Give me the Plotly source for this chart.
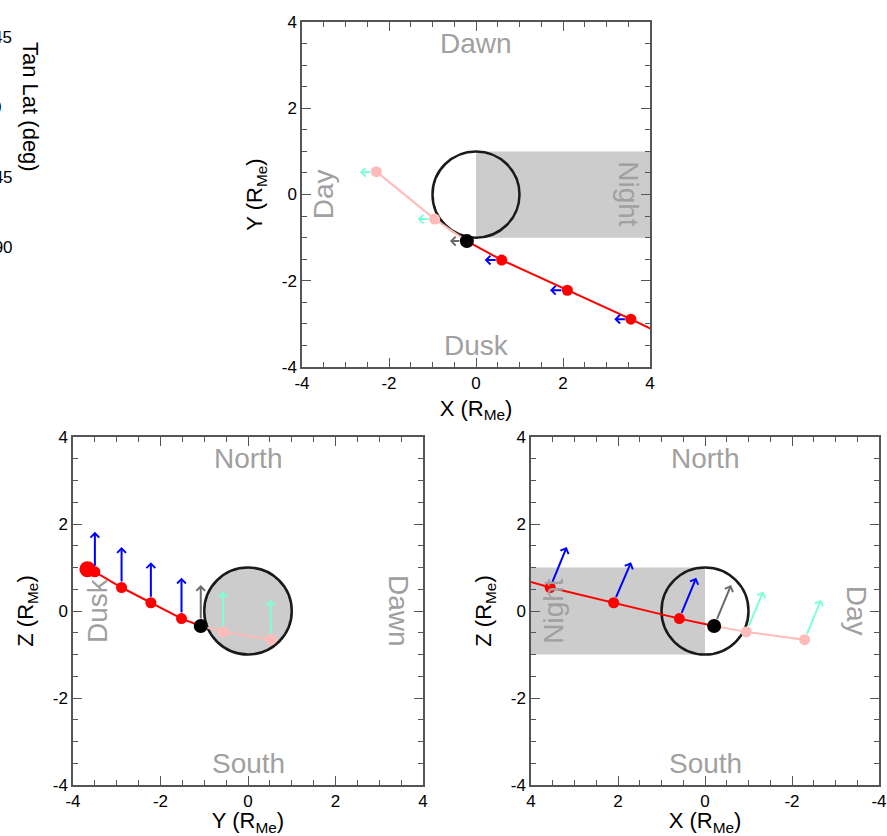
import plotly.graph_objects as go

# Spacecraft trajectory samples in Mercury radii (MSO frame), first -> last
traj_x = [5.20, 4.82, 3.56, 2.10, 0.59, -0.21, -0.95, -2.29]
traj_y = [-3.67, -3.50, -2.89, -2.22, -1.52, -1.08, -0.57, 0.53]
traj_z = [0.96, 0.90, 0.54, 0.19, -0.175, -0.345, -0.48, -0.66]
# role of each sample: first point, outbound leg, current position, inbound leg
traj_kind = ["start", "red", "red", "red", "red", "now", "pink", "pink"]

# Magnetic field direction at each sample, scaled to plot units
field_x = [None, -0.39, -0.38, -0.40, -0.39, -0.39, -0.39, -0.38]
field_y = [None, 0.0, 0.0, 0.0, 0.0, 0.0, 0.0, -0.02]
field_z = [None, 0.92, 0.93, 0.93, 0.94, 0.94, 0.93, 0.92]

tick_vals = [-4, -2, 0, 2, 4]
tick_text = ["-4", "-2", "0", "2", "4"]

# tangent-latitude panel to the left (only its labels fall on the page)
lat_vals = [45, 0, -45, -90]
lat_text = ["45", "0", "-45", "-90"]

FONT = "Liberation Sans, Arial, sans-serif"
RED, PINK = "#ff0000", "#ffbaba"
BLUE, AQUA, GREY = "#0000ff", "#7fffd4", "#6a6a6a"
AXIS, LABEL, NIGHT = "#555555", "#a0a0a0", "#cccccc"

W, H = 887, 836

# right edges (px) of the latitude tick labels, which sit past the page edge
lat_label_right = [14, 3, 15, 15]


def hdom(left, right):
    return [left / W, right / W]


def vdom(top, bottom):
    return [1 - bottom / H, 1 - top / H]


panels = [
    dict(n="", h=traj_x, v=traj_y, fh=field_x, fv=field_y,
         xdom=hdom(302, 650), ydom=vdom(22, 367), xrange=[-4, 4],
         xtitle="X (R<sub>Me</sub>)", ytitle="Y (R<sub>Me</sub>)",
         night=True, planet_fill=None,
         labels=[("Dawn", 0, 3.5, 0), ("Dusk", 0, -3.5, 0),
                 ("Day", -3.5, 0, -90), ("Night", 3.5, 0, 90)]),
    dict(n="2", h=traj_y, v=traj_z, fh=field_y, fv=field_z,
         xdom=hdom(73, 423), ydom=vdom(437, 785), xrange=[-4, 4],
         xtitle="Y (R<sub>Me</sub>)", ytitle="Z (R<sub>Me</sub>)",
         night=False, planet_fill=NIGHT,
         labels=[("North", 0, 3.5, 0), ("South", 0, -3.5, 0),
                 ("Dusk", -3.45, 0, -90), ("Dawn", 3.45, 0, 90)]),
    dict(n="3", h=traj_x, v=traj_z, fh=field_x, fv=field_z,
         xdom=hdom(531, 879), ydom=vdom(437, 785), xrange=[4, -4],
         xtitle="X (R<sub>Me</sub>)", ytitle="Z (R<sub>Me</sub>)",
         night=True, planet_fill=None,
         labels=[("North", 0, 3.5, 0), ("South", 0, -3.5, 0),
                 ("Night", 3.5, 0, -90), ("Day", -3.5, 0, 90)]),
]


def axis_style(title, rng, dom, anchor, standoff):
    return dict(
        domain=dom, anchor=anchor, range=rng, automargin=False,
        tickmode="array", tickvals=tick_vals, ticktext=tick_text,
        ticks="inside", ticklen=9, tickwidth=1.3, tickcolor=AXIS,
        showline=True, linewidth=1.5, linecolor=AXIS, mirror="allticks",
        minor=dict(ticks="inside", ticklen=5, tickwidth=1.2, tickcolor=AXIS,
                   dtick=0.5, tick0=0),
        showgrid=False, zeroline=False,
        tickfont=dict(size=17, color="black", family=FONT),
        title=dict(text=title, font=dict(size=22, color="black", family=FONT),
                   standoff=standoff),
        fixedrange=True,
    )


fig = go.Figure()
shapes, annotations, layout_axes = [], [], {}

kind_style = {
    "start": dict(color=RED, size=16),
    "red": dict(color=RED, size=11),
    "pink": dict(color=PINK, size=11),
    "now": dict(color="black", size=14),
}
arrow_color = {"red": BLUE, "pink": AQUA, "now": GREY}

for p in panels:
    xr, yr = "x" + p["n"], "y" + p["n"]
    layout_axes["xaxis" + p["n"]] = axis_style(p["xtitle"], p["xrange"], p["xdom"], yr, 8)
    layout_axes["yaxis" + p["n"]] = axis_style(p["ytitle"], [-4, 4], p["ydom"], xr, 13)

    # night side of the planet and the planet outline
    if p["night"]:
        shapes.append(dict(type="rect", xref=xr, yref=yr, x0=0, x1=4, y0=-1, y1=1,
                           fillcolor=NIGHT, line=dict(width=0), layer="below"))
    shapes.append(dict(type="circle", xref=xr, yref=yr, x0=-1, x1=1, y0=-1, y1=1,
                       fillcolor=p["planet_fill"] or "rgba(0,0,0,0)",
                       line=dict(color="#1a1a1a", width=2.5), layer="below"))

    h, v = p["h"], p["v"]
    out_idx = [i for i, k in enumerate(traj_kind) if k in ("start", "red", "now")]
    in_idx = [i for i, k in enumerate(traj_kind) if k in ("now", "pink")]
    fig.add_trace(go.Scatter(x=[h[i] for i in out_idx], y=[v[i] for i in out_idx],
                             mode="lines", line=dict(color=RED, width=2),
                             xaxis=xr, yaxis=yr, hoverinfo="skip"))
    fig.add_trace(go.Scatter(x=[h[i] for i in in_idx], y=[v[i] for i in in_idx],
                             mode="lines", line=dict(color=PINK, width=2),
                             xaxis=xr, yaxis=yr, hoverinfo="skip"))
    for kind in ("start", "red", "pink", "now"):
        idx = [i for i, k in enumerate(traj_kind) if k == kind]
        fig.add_trace(go.Scatter(x=[h[i] for i in idx], y=[v[i] for i in idx],
                                 mode="markers", marker=dict(**kind_style[kind], line=dict(width=0)),
                                 xaxis=xr, yaxis=yr))

    # field direction arrows
    lo, hi = min(p["xrange"]), max(p["xrange"])
    for i, k in enumerate(traj_kind):
        if k not in arrow_color:
            continue
        x0, y0 = h[i], v[i]
        x1, y1 = x0 + p["fh"][i], y0 + p["fv"][i]
        if not all(lo <= c <= hi for c in (x0, x1)) or not all(-4 <= c <= 4 for c in (y0, y1)):
            continue
        annotations.append(dict(
            x=x1, y=y1, ax=x0, ay=y0, xref=xr, yref=yr, axref=xr, ayref=yr,
            text="", showarrow=True, arrowhead=4, arrowsize=0.85, arrowwidth=2,
            arrowcolor=arrow_color[k], startstandoff=kind_style[k]["size"] / 2 - 1,
            standoff=0))

    # orientation labels
    for text, lx, ly, ang in p["labels"]:
        annotations.append(dict(x=lx, y=ly, xref=xr, yref=yr, text=text, textangle=ang,
                                showarrow=False, xanchor="center", yanchor="middle",
                                font=dict(size=28, color=LABEL, family=FONT)))

# axis of the neighbouring latitude panel
layout_axes["xaxis4"] = dict(domain=[0, 0.01], anchor="y4", visible=False, range=[0, 1])
layout_axes["yaxis4"] = dict(domain=[0.70, 1.0], anchor="x4", visible=False,
                             range=[-92.4, 68.8])
for val, txt, right in zip(lat_vals, lat_text, lat_label_right):
    annotations.append(dict(x=right / W, y=val, xref="paper", yref="y4", text=txt,
                            showarrow=False, xanchor="right", yanchor="middle",
                            font=dict(size=17, color="black", family=FONT)))
annotations.append(dict(x=31 / W, y=0, xref="paper", yref="y4", text="Tan Lat (deg)",
                        textangle=90, showarrow=False, xanchor="center", yanchor="middle",
                        font=dict(size=22, color="black", family=FONT)))

fig.update_layout(
    template="none",
    width=W, height=H, margin=dict(l=0, r=0, t=0, b=0),
    paper_bgcolor="white", plot_bgcolor="white",
    showlegend=False, shapes=shapes, annotations=annotations,
    font=dict(family=FONT),
    **layout_axes,
)

fig.write_html("out.html")
